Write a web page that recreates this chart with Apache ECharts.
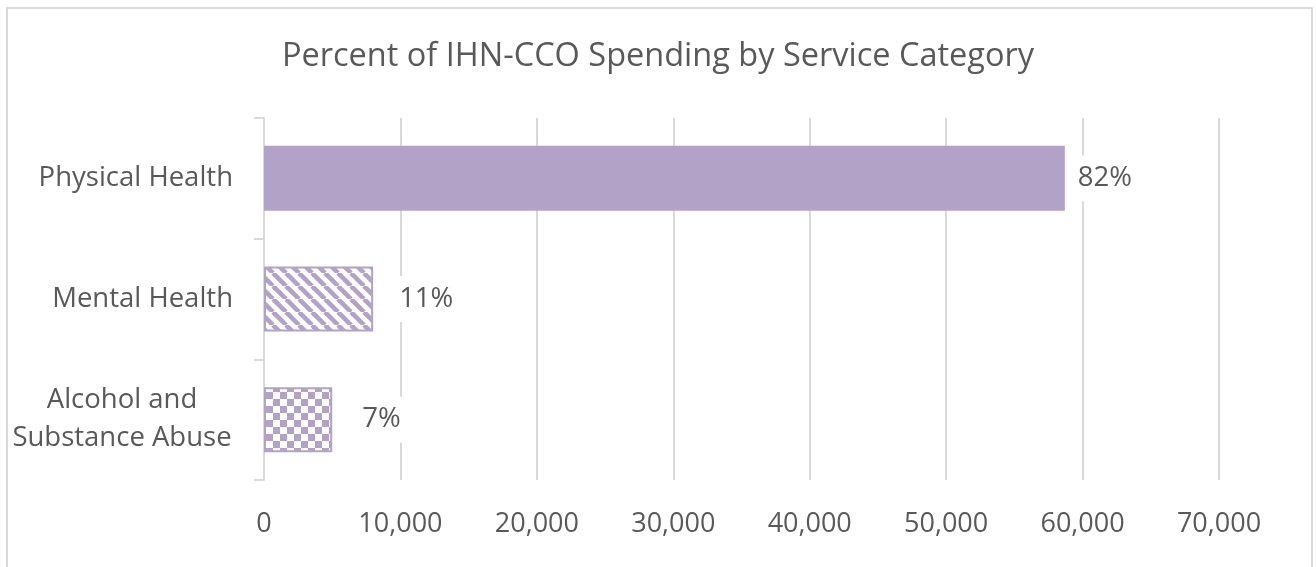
<!DOCTYPE html>
<html>
<head>
<meta charset="utf-8">
<script src="https://cdn.jsdelivr.net/npm/echarts@6/dist/echarts.min.js"></script>
<style>
  html, body { margin: 0; padding: 0; background: #ffffff; }
  #chart { width: 1316px; height: 567px; }
</style>
</head>
<body>
<div id="chart"></div>
<script>
// ---- data ----
const titleText = 'Percent of IHN-CCO Spending by Service Category';
const categories = ['Physical Health', 'Mental Health', 'Alcohol and\nSubstance Abuse'];
const spending = [58700, 8000, 5000];
const percentLabels = ['82%', '11%', '7%'];
const axisMin = 0;
const axisMax = 70000;
const axisStep = 10000;

// ---- styling ----
const LAV = '#B3A2C7';
const TEXT = '#595959';
const GRID = '#D9D9D9';
const FONT = '"Open Sans", "Noto Sans", sans-serif';

function stripePattern() {
  const p = 13;
  const c = document.createElement('canvas');
  c.width = p; c.height = p;
  const ctx = c.getContext('2d');
  ctx.fillStyle = '#ffffff';
  ctx.fillRect(0, 0, p, p);
  ctx.strokeStyle = LAV;
  ctx.lineWidth = 4.6;
  for (const k of [-p, 0, p]) {
    ctx.beginPath();
    ctx.moveTo(k, 0);
    ctx.lineTo(k + p, p);
    ctx.stroke();
  }
  return c;
}
function checkerPattern() {
  const s = 7;
  const c = document.createElement('canvas');
  c.width = 2 * s; c.height = 2 * s;
  const ctx = c.getContext('2d');
  ctx.fillStyle = '#ffffff';
  ctx.fillRect(0, 0, 2 * s, 2 * s);
  ctx.fillStyle = LAV;
  ctx.fillRect(0, 0, s, s);
  ctx.fillRect(s, s, s, s);
  return c;
}

const itemStyles = [
  { color: LAV, borderColor: LAV, borderWidth: 0 },
  { color: { image: stripePattern(), repeat: 'repeat' }, borderColor: LAV, borderWidth: 2 },
  { color: { image: checkerPattern(), repeat: 'repeat' }, borderColor: LAV, borderWidth: 2 }
];
const labelDistances = [9, 22, 26];

const chart = echarts.init(document.getElementById('chart'), null, { renderer: 'canvas' });
chart.setOption({
  animation: false,
  backgroundColor: '#ffffff',
  textStyle: { fontFamily: FONT },
  graphic: [{
    type: 'rect',
    silent: true,
    z: -10,
    shape: { x: 7, y: 8, width: 1305, height: 700 },
    style: { fill: 'none', stroke: GRID, lineWidth: 2 }
  }],
  title: {
    text: titleText,
    left: 'center',
    top: 35,
    textStyle: { fontSize: 32.5, fontWeight: 'normal', color: TEXT, fontFamily: FONT }
  },
  grid: {
    left: 264, right: 97, top: 118, bottom: 87,
    containLabel: false,
    outerBoundsMode: 'none'
  },
  xAxis: {
    type: 'value',
    min: axisMin,
    max: axisMax,
    interval: axisStep,
    axisLine: { show: false },
    axisTick: { show: false },
    splitLine: { show: true, lineStyle: { color: GRID, width: 2 } },
    axisLabel: {
      color: TEXT,
      fontSize: 27,
      fontFamily: FONT,
      margin: 31,
      formatter: v => v.toLocaleString('en-US')
    }
  },
  yAxis: {
    type: 'category',
    inverse: true,
    data: categories,
    axisLine: { show: true, lineStyle: { color: GRID, width: 2 } },
    axisTick: { show: true, length: 10, lineStyle: { color: GRID, width: 2 } },
    axisLabel: {
      color: TEXT,
      fontSize: 27.5,
      fontFamily: FONT,
      margin: 31,
      formatter: v => v.indexOf('\n') >= 0
        ? v.split('\n').map(s => '{c|' + s + '}').join('\n')
        : v,
      rich: {
        c: { width: 222, align: 'center', lineHeight: 38, fontSize: 27.5, color: TEXT, fontFamily: FONT }
      }
    }
  },
  series: [{
    type: 'bar',
    barWidth: 65,
    data: spending.map((v, i) => ({
      value: v,
      itemStyle: itemStyles[i],
      label: { distance: labelDistances[i] }
    })),
    label: {
      show: true,
      position: 'right',
      color: TEXT,
      fontSize: 27.5,
      fontFamily: FONT,
      backgroundColor: '#ffffff',
      padding: [10, 4, 8, 4],
      formatter: p => percentLabels[p.dataIndex]
    }
  }]
});
</script>
</body>
</html>
